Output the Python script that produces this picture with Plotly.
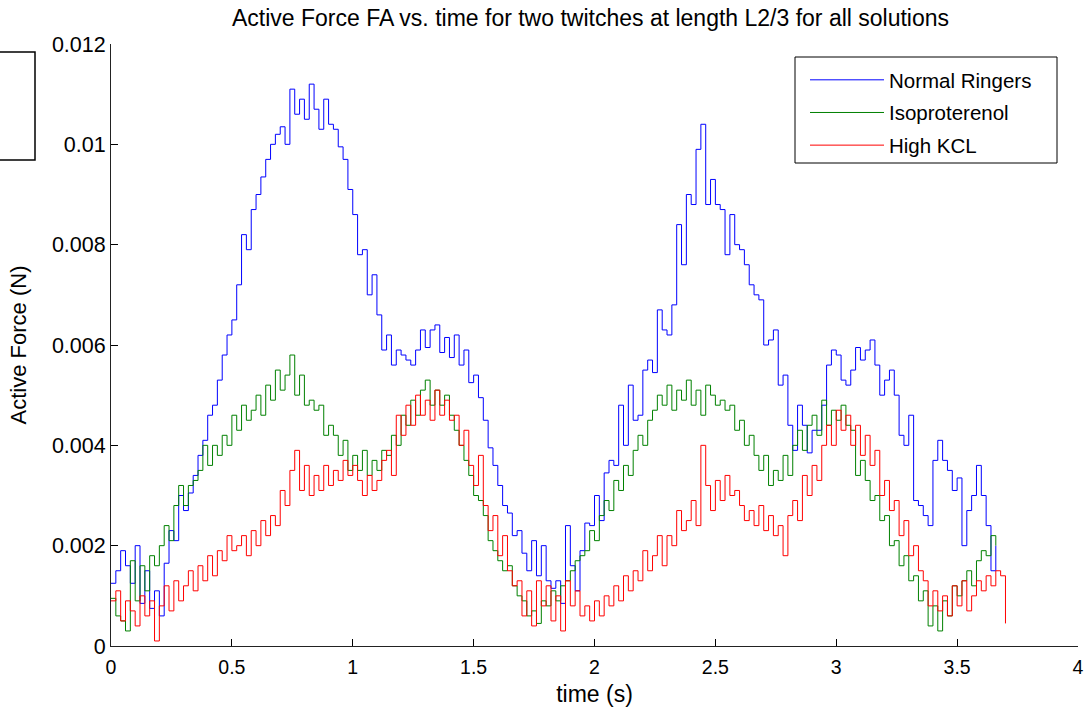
import numpy as np
import plotly.graph_objects as go

# time sampling grid (s)
dt = 0.02

normal_ringers = [
    1.25, 1.5, 1.9, 1.6, 1.25, 2.0, 0.85, 1.5, 0.75, 1.1,
    0.6, 1.65, 2.3, 2.1, 3.0, 2.7, 3.05, 3.4, 3.8, 4.1,
    4.6, 4.8, 5.3, 5.8, 6.2, 6.5, 7.2, 8.2, 7.9, 8.7,
    9.0, 9.35, 9.7, 10.0, 10.2, 10.35, 10.0, 11.1, 10.6, 10.9,
    10.5, 11.2, 10.7, 10.3, 10.9, 10.4, 10.3, 9.95, 9.7, 9.1,
    8.6, 7.8, 7.9, 7.0, 7.4, 6.6, 5.9, 6.2, 5.6, 5.9,
    5.8, 5.7, 5.6, 5.9, 6.3, 5.95, 6.3, 6.4, 5.85, 6.15,
    5.75, 6.2, 5.6, 5.9, 5.25, 5.4, 4.95, 4.5, 3.95, 3.6,
    3.2, 2.8, 2.65, 2.2, 2.3, 1.85, 1.5, 2.1, 1.4, 2.0,
    1.3, 1.15, 1.3, 0.85, 2.4, 1.6, 1.1, 1.9, 2.45, 2.4,
    3.0, 2.5, 3.45, 3.7, 3.6, 4.8, 4.0, 5.2, 4.5, 4.6,
    5.5, 5.7, 5.45, 6.7, 6.3, 6.2, 6.8, 8.4, 7.6, 9.0,
    8.8, 9.9, 10.4, 8.8, 9.3, 8.8, 8.7, 7.8, 8.6, 8.0,
    7.9, 7.6, 7.2, 7.0, 6.9, 6.0, 6.1, 6.3, 5.2, 5.4,
    4.4, 3.9, 4.8, 4.4, 3.85, 4.3, 4.3, 4.8, 5.6, 5.9,
    5.8, 5.3, 5.2, 5.5, 5.95, 5.7, 5.9, 6.1, 5.6, 5.0,
    5.3, 5.5, 5.0, 4.2, 4.0, 4.6, 2.9, 2.8, 2.6, 2.4,
    3.7, 4.1, 3.7, 3.5, 3.1, 3.35, 2.0, 2.7, 3.0, 3.6,
    3.0, 2.4, 1.5, 2.0,
]

isoproterenol = [
    0.95, 0.6, 0.5, 0.3, 1.7, 0.9, 1.6, 1.1, 1.8, 1.6,
    2.0, 2.4, 2.1, 2.8, 3.2, 2.8, 3.2, 3.3, 3.5, 4.0,
    3.6, 4.0, 3.8, 4.2, 4.0, 4.6, 4.3, 4.8, 4.5, 4.7,
    5.0, 4.6, 5.2, 4.9, 5.5, 5.1, 5.4, 5.8, 5.0, 5.4,
    4.8, 4.9, 4.7, 4.8, 4.2, 4.4, 4.2, 3.8, 4.1, 3.5,
    3.8, 3.5, 3.9, 3.4, 3.7, 3.5, 3.9, 3.8, 4.2, 4.0,
    4.6, 4.4, 4.9, 4.6, 5.1, 5.3, 4.8, 5.1, 4.8, 5.0,
    4.6, 4.3, 4.0, 3.7, 3.4, 3.0, 2.9, 2.6, 2.1, 1.9,
    1.7, 1.5, 1.6, 1.2, 1.0, 0.9, 0.6, 0.7, 0.45, 0.9,
    0.8, 1.1, 0.9, 1.2, 1.3, 1.5, 1.7, 1.8, 1.9, 2.3,
    2.1, 2.6, 2.9, 2.7, 3.3, 3.1, 3.6, 3.4, 3.9, 4.2,
    4.0, 4.5, 4.7, 5.0, 4.8, 5.2, 4.7, 5.1, 4.9, 5.3,
    4.8, 5.1, 4.6, 5.2, 5.0, 4.8, 4.9, 4.7, 4.8, 4.3,
    4.5, 4.0, 4.2, 3.8, 3.5, 3.8, 3.2, 3.5, 3.3, 3.8,
    3.4, 4.0, 4.3, 3.9, 4.4, 4.6, 4.2, 4.9, 4.4, 4.7,
    4.5, 4.8, 4.4, 4.3, 3.4, 3.7, 3.3, 2.9, 3.0, 2.5,
    2.6, 2.0, 2.1, 1.6, 1.8, 1.3, 1.4, 0.9, 1.1, 0.4,
    0.8, 0.3, 0.9, 0.6, 1.2, 1.0, 1.3, 1.5, 1.2, 1.7,
    1.9, 1.8, 2.2, 2.0,
]

high_kcl = [
    0.9, 1.1, 0.5, 0.9, 0.7, 0.4, 1.0, 0.6, 0.9, 0.1,
    0.8, 1.2, 0.7, 1.3, 0.9, 1.2, 1.5, 1.1, 1.6, 1.3,
    1.8, 1.4, 1.9, 1.7, 2.2, 1.9, 2.0, 2.2, 1.8, 2.3,
    2.0, 2.5, 2.2, 2.6, 2.4, 3.1, 2.8, 3.5, 3.9, 3.1,
    3.6, 3.0, 3.4, 3.1, 3.6, 3.2, 3.5, 3.3, 3.7, 3.4,
    3.6, 3.3, 3.0, 3.4, 3.1, 3.3, 3.7, 3.9, 3.4, 4.6,
    4.2, 4.8, 4.4, 5.0, 4.6, 4.9, 4.5, 5.1, 4.6, 4.9,
    4.5, 4.6, 4.0, 4.3, 3.6, 3.2, 3.8, 2.8, 2.3, 2.6,
    1.8, 2.2, 1.5, 1.2, 1.3, 0.6, 1.1, 0.4, 1.3, 0.8,
    1.2, 0.5, 1.0, 0.3, 1.3, 0.8, 1.1, 0.6, 0.8, 0.5,
    0.9, 0.6, 1.0, 0.8, 1.2, 0.9, 1.4, 1.1, 1.5, 1.3,
    1.9, 1.5, 1.8, 2.2, 1.6, 2.2, 2.0, 2.7, 2.3, 2.5,
    2.9, 2.4, 4.0, 3.2, 2.7, 3.3, 2.9, 3.4, 3.0, 3.1,
    2.8, 2.5, 2.7, 2.4, 2.8, 2.3, 2.6, 2.2, 2.4, 1.8,
    2.6, 2.9, 2.5, 3.4, 3.0, 3.6, 3.3, 4.0, 4.4, 4.0,
    4.7, 4.3, 4.6, 4.0, 4.4, 3.8, 4.2, 3.6, 3.9, 3.0,
    3.3, 2.7, 2.9, 2.2, 2.5, 1.8, 2.0, 1.5, 1.3, 0.8,
    1.1, 0.7, 1.0, 0.6, 1.2, 0.8, 1.3, 0.7, 1.0, 1.3,
    1.1, 1.4, 1.2, 1.5, 1.4, 0.45,
]

series_names = ["Normal Ringers", "Isoproterenol", "High KCL"]
series_colors = ["#0000FF", "#008000", "#FF0000"]

x_tickvals = [0, 0.5, 1, 1.5, 2, 2.5, 3, 3.5, 4]
x_ticktext = ["0", "0.5", "1", "1.5", "2", "2.5", "3", "3.5", "4"]
y_tickvals = [0, 0.002, 0.004, 0.006, 0.008, 0.010, 0.012]
y_ticktext = ["0", "0.002", "0.004", "0.006", "0.008", "0.01", "0.012"]

FONT = "Liberation Sans, Arial, sans-serif"

# plot area in pixels
L, R, T, B = 111, 1078, 44, 646
PW, PH = R - L, B - T


def px_to_paper_x(px):
    return (px - L) / PW


def py_to_paper_y(py):
    return (B - py) / PH


fig = go.Figure()
for i, (name, vals, col) in enumerate(zip(series_names,
                                          [normal_ringers, isoproterenol, high_kcl],
                                          series_colors)):
    t = np.round(np.arange(len(vals)) * dt, 3)
    fig.add_trace(go.Scatter(
        x=t, y=np.array(vals) * 1e-3, mode="lines", name=name,
        line=dict(color=col, width=1, shape="hv"),
        legendgroup=f"g{i}",
    ))

fig.update_layout(
    width=1088, height=710,
    margin=dict(l=L, r=1088 - R, t=T, b=710 - B, autoexpand=False),
    paper_bgcolor="white", plot_bgcolor="white",
    font=dict(family=FONT, size=19, color="black"),
    title=dict(text="Active Force FA vs. time for two twitches at length L2/3 for all solutions",
               x=590.5 / 1088, xanchor="center", y=0.975, yanchor="middle",
               font=dict(size=23, family=FONT, color="black")),
    showlegend=True,
    legend=dict(x=px_to_paper_x(805), y=py_to_paper_y(60), xanchor="left", yanchor="top",
                bgcolor="rgba(0,0,0,0)", borderwidth=0,
                font=dict(size=20.5, family=FONT, color="black"),
                itemwidth=74, tracegroupgap=3),
    xaxis=dict(range=[0, 4], tickvals=x_tickvals, ticktext=x_ticktext,
               showgrid=False, zeroline=False, showline=True, linecolor="#222222",
               linewidth=1, ticks="inside", ticklen=7, tickcolor="black",
               ticklabelstandoff=4, tickfont=dict(size=19.5),
               title=dict(text="time (s)", standoff=8, font=dict(size=23))),
    yaxis=dict(range=[0, 0.012], tickvals=y_tickvals, ticktext=y_ticktext,
               showgrid=False, zeroline=False, showline=True, linecolor="#222222",
               linewidth=1, ticks="inside", ticklen=7, tickcolor="black",
               tickfont=dict(size=21.5),
               title=dict(text="Active Force (N)", standoff=19, font=dict(size=22))),
    shapes=[
        dict(type="rect", xref="paper", yref="paper",
             x0=px_to_paper_x(-15), x1=px_to_paper_x(35),
             y0=py_to_paper_y(160), y1=py_to_paper_y(52),
             line=dict(color="black", width=1.5), fillcolor="rgba(0,0,0,0)"),
        dict(type="rect", xref="paper", yref="paper",
             x0=px_to_paper_x(795), x1=px_to_paper_x(1057),
             y0=py_to_paper_y(163), y1=py_to_paper_y(57),
             line=dict(color="black", width=1), fillcolor="rgba(0,0,0,0)"),
    ],
)

fig.write_html("out.html")
